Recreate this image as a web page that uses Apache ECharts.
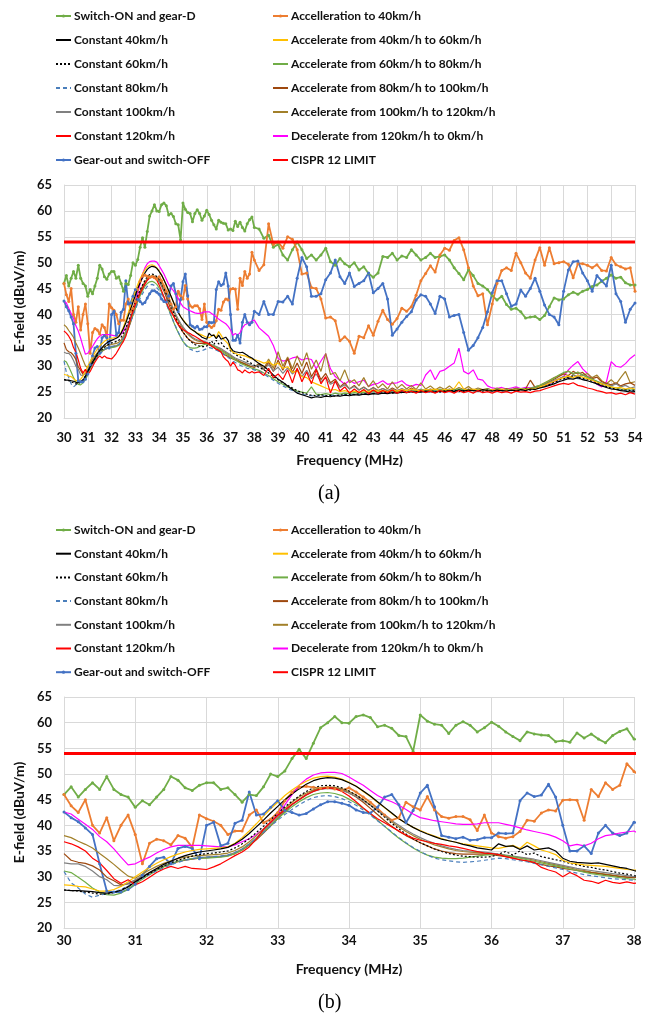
<!DOCTYPE html>
<html>
<head>
<meta charset="utf-8">
<script src="https://cdn.jsdelivr.net/npm/echarts@6/dist/echarts.min.js"></script>
<style>
  html, body { margin: 0; padding: 0; background: #fff; }
  #chart { width: 657px; height: 1021px; }
</style>
</head>
<body>
<div id="chart"></div>
<script>
// Sample frequencies (MHz): 0.1 MHz steps from 30 to 38, then 0.2 MHz steps up to 54
const freq = [];
for (let i = 0; i <= 80; i++) freq.push(+(30 + i * 0.1).toFixed(1));
for (let j = 1; j <= 80; j++) freq.push(+(38 + j * 0.2).toFixed(1));

// Measured E-field levels (dBuV/m), one value per sample frequency
const switchOnGearD = [
  46, 47.5, 45.5, 47, 48.3, 47, 49.5, 47, 46, 45.5,
  43.5, 44.8, 44, 45.5, 47, 49.5, 48.8, 47.3, 46.8, 47.8,
  48.3, 48.3, 47, 47.3, 46, 44.5, 46, 45.8, 47.5, 50,
  49.5, 50.6, 53, 54.8, 53, 56, 59, 60, 61.2, 60,
  59.9, 61.2, 61.5, 61, 59.2, 59.5, 58.9, 57.5, 57.3, 54.4,
  61.5, 60.3, 59.7, 59.5, 57.9, 59.5, 60.2, 59.5, 58.2, 59,
  60.1, 59.3, 58.2, 57.3, 56.5, 58.2, 57.8, 57.6, 57.5, 56.3,
  56.5, 56.2, 58, 57, 57.8, 56.8, 56.1, 57.5, 58.3, 58.8,
  56.8,
  56.5, 54.7, 55.3, 53, 53.5, 51.5, 50.5, 52.5, 54, 52.5,
  50.8, 51.5, 50.5, 51.5, 52.8, 50.2, 49.5, 50.8, 49.8, 49.2,
  50, 48.6, 49.2, 47.9, 47.2, 48, 51.2, 51, 51.8, 50.5,
  51.3, 51, 52.5, 51.5, 50.5, 51, 51.8, 51, 51.2, 51.5,
  50.5, 49, 47.9, 46.7, 48.6, 47.5, 46, 45.5, 44.8, 43.6,
  42.8, 43.5, 41.9, 41, 41.2, 40.5, 39.3, 39.5, 39.6, 39,
  39.8, 41.5, 43.2, 42.8, 43, 43.8, 44.3, 43.9, 44.5, 44.8,
  45.4, 45.7, 46.4, 47, 47.6, 47, 47.2, 46.1, 45.7, 45.7
];
const accelTo40 = [
  46, 43.8, 42.5, 45, 40, 38.5, 41.5, 37, 40, 42,
  38.2, 32.5, 36.5, 37.3, 37, 36.2, 38, 37.5, 35.7, 42,
  41.3, 40.8, 40, 38.2, 38.9, 38.9, 42, 43, 40.5, 41.2,
  42.5, 44.8, 46.4, 47.4, 47.6, 47.4, 47.2, 47.3, 47.1, 46.8,
  47.3, 46.5, 45.5, 44.5, 43.3, 42, 41, 41.5, 44.5, 43.6,
  43, 45.6, 43, 41.7, 41.4, 41.7, 41.7, 41.1, 39, 42,
  38.5, 37.8, 37.5, 37.8, 38.8, 41, 40.8, 42.4, 43, 42.8,
  44.9, 45, 44.9, 41, 47, 45.6, 48.3, 47, 47.8, 52,
  50.5,
  48.5, 49.6, 57.5, 53.5, 54, 52.8, 55, 54.5, 52.5, 47.8,
  48, 45.2, 45, 43, 39.3, 39.5, 38.8, 34.9, 35.7, 34.8,
  32.5, 35.8, 35.5, 37.8, 36, 38.7, 40.8, 39, 38.1, 39.2,
  41.2, 40.6, 41.5, 43.7, 46.5, 47.9, 49.4, 48.2, 51.5, 52.8,
  52.4, 54.3, 54.8, 52.5, 49, 45.5, 43.6, 44, 38, 42,
  46, 48.5, 49, 48.5, 51.8, 50, 48, 47, 50.5, 52.9,
  49.5, 52.9, 49.8, 50, 50.2, 49.7, 47.1, 49.8, 49.8, 49.5,
  49, 49.6, 48.5, 48.4, 51, 49.6, 49.2, 48.8, 49, 44.5
];
const const40 = [
  27.4, 27.3, 27.3, 27.2, 27.1, 26.9, 26.8, 27.0, 27.3, 28.0,
  29.0, 29.9, 30.8, 31.6, 32.4, 33.0, 33.6, 34.1, 34.5, 34.8,
  35.0, 35.2, 35.4, 35.7, 36.4, 37.3, 38.4, 39.7, 41.0, 42.4,
  43.7, 45.0, 46.1, 47.1, 48.0, 48.7, 49.1, 49.3, 49.2, 48.9,
  48.3, 47.6, 46.7, 45.7, 44.6, 43.5, 42.4, 41.3, 40.4, 39.6,
  38.9, 38.3, 37.8, 37.3, 37.0, 36.7, 36.3, 36.0, 35.6, 35.4,
  35.2, 36.4, 35.9, 36.0, 35.3, 36.0, 35.2, 35.4, 35.6, 35.0,
  33.6, 33.0, 32.8, 32.7, 32.6, 32.7, 32.4, 32.1, 31.8, 31.6,
  31.2,
  30.5, 30.0, 29.2, 28.3, 27.5, 26.9, 26.2, 25.5, 24.8, 24.5,
  24.2, 23.9, 24.1, 24.0, 24.2, 24.1, 24.3, 24.2, 24.4, 24.3,
  24.5, 24.4, 24.6, 24.5, 24.7, 24.6, 24.8, 24.7, 24.9, 24.8,
  25.0, 24.9, 25.1, 25.0, 25.0, 25.2, 25.1, 25.0, 25.2, 25.1,
  25.3, 25.1, 25.4, 25.2, 25.4, 25.3, 25.2, 25.5, 25.3, 25.2,
  25.4, 25.3, 25.2, 25.4, 25.3, 25.5, 25.3, 25.6, 25.5, 25.8,
  26.0, 26.3, 26.6, 27.0, 27.3, 27.6, 27.5, 27.8, 27.4, 27.2,
  26.9, 26.6, 26.2, 25.9, 25.6, 25.5, 25.3, 25.2, 25.0, 25.1
];
const accel40to60 = [
  28.4, 28.3, 28.1, 28.0, 27.6, 27.2, 27.2, 27.5, 28.1, 29.0,
  30.0, 30.9, 31.8, 32.6, 33.3, 33.9, 34.4, 34.8, 35.1, 35.3,
  35.4, 35.5, 35.6, 35.8, 36.5, 37.6, 38.9, 40.3, 41.8, 43.2,
  44.5, 45.8, 46.9, 47.8, 48.6, 49.2, 49.5, 49.6, 49.4, 49.0,
  48.4, 47.6, 46.6, 45.6, 44.5, 43.4, 42.3, 41.3, 40.4, 39.6,
  39.0, 38.4, 37.9, 37.4, 37.0, 36.7, 36.4, 36.2, 36.0, 35.8,
  35.6, 35.5, 35.8, 36.1, 35.5, 36.7, 36.0, 35.2, 34.8, 34.3,
  33.2, 32.7, 32.5, 32.3, 32.2, 32.1, 32.0, 31.8, 31.6, 31.4,
  31.3,
  31.0, 30.6, 30.9, 30.2, 30.6, 29.6, 29.9, 28.8, 29.1, 28.0,
  27.8, 27.0, 26.6, 26.2, 25.8, 25.4, 25.5, 25.1, 25.3, 25.0,
  25.2, 25.0, 25.3, 25.1, 25.4, 25.2, 25.3, 25.1, 25.4, 25.2,
  25.5, 25.3, 25.6, 25.4, 25.3, 25.5, 25.4, 25.6, 25.3, 25.5,
  25.4, 25.7, 27.0, 25.6, 25.4, 25.6, 25.4, 25.5, 25.3, 25.5,
  25.4, 25.6, 25.3, 25.5, 25.4, 25.6, 25.5, 25.7, 25.6, 26.0,
  26.3, 26.7, 27.1, 27.5, 27.8, 28.1, 27.8, 28.2, 27.9, 27.6,
  27.3, 26.9, 26.6, 26.3, 26.0, 25.8, 25.9, 25.6, 25.8, 25.6
];
const const60 = [
  27.4, 27.3, 27.2, 27.0, 26.8, 26.6, 26.6, 26.9, 27.4, 28.1,
  29.0, 29.8, 30.6, 31.4, 32.1, 32.7, 33.2, 33.6, 34.0, 34.3,
  34.5, 34.6, 34.8, 35.0, 35.6, 36.4, 37.4, 38.6, 39.8, 41.1,
  42.3, 43.6, 44.7, 45.7, 46.6, 47.3, 47.7, 47.8, 47.7, 47.3,
  46.7, 45.9, 45.0, 43.9, 42.8, 41.6, 40.4, 39.3, 38.3, 37.4,
  36.6, 36.0, 35.4, 34.9, 34.5, 34.2, 34.0, 33.9, 33.8, 33.8,
  33.9, 34.4, 34.9, 34.2, 35.0, 34.3, 34.6, 33.9, 33.6, 33.3,
  33.0, 32.6, 32.3, 32.0, 31.8, 31.5, 31.3, 31.0, 30.7, 30.5,
  30.2,
  29.8, 29.3, 28.7, 28.0, 27.4, 26.8, 26.3, 25.8, 25.3, 24.9,
  24.6, 24.4, 24.3, 24.5, 24.3, 24.4, 24.2, 24.5, 24.4, 24.6,
  24.5, 24.7, 24.6, 24.8, 24.7, 24.9, 24.8, 25.0, 24.8, 25.0,
  24.9, 25.1, 25.0, 25.2, 25.1, 25.0, 25.3, 25.1, 25.0, 25.3,
  25.2, 25.4, 25.1, 25.3, 25.2, 25.5, 25.3, 25.2, 25.4, 25.3,
  25.2, 25.5, 25.3, 25.4, 25.2, 25.4, 25.6, 25.4, 25.6, 25.9,
  26.2, 26.5, 26.9, 27.3, 27.6, 27.9, 28.1, 27.9, 27.7, 27.5,
  27.1, 26.8, 26.5, 26.1, 25.8, 25.6, 25.4, 25.5, 25.3, 25.4
];
const accel60to80 = [
  31.1, 30.8, 29.9, 28.9, 27.8, 27.0, 26.5, 26.4, 26.8, 27.6,
  28.6, 29.5, 30.4, 31.2, 31.9, 32.5, 33.0, 33.3, 33.5, 33.6,
  33.6, 33.7, 33.8, 34.0, 34.5, 35.2, 36.2, 37.4, 38.7, 40.0,
  41.3, 42.5, 43.6, 44.6, 45.4, 46.0, 46.3, 46.4, 46.2, 45.8,
  45.1, 44.3, 43.3, 42.2, 41.0, 39.8, 38.6, 37.5, 36.5, 35.6,
  34.8, 34.2, 33.8, 33.6, 33.5, 33.5, 33.6, 33.8, 34.0, 34.2,
  34.3, 34.3, 34.1, 33.9, 33.6, 33.3, 33.0, 32.7, 32.4, 32.1,
  31.8, 31.5, 31.2, 30.9, 30.6, 30.4, 30.2, 30.0, 29.8, 29.6,
  29.5,
  29.2, 28.7, 28.2, 27.6, 27.0, 26.5, 26.0, 25.6, 25.2, 25.0,
  24.8, 26.0, 24.6, 24.5, 24.7, 24.5, 24.8, 24.6, 24.8, 24.7,
  24.9, 24.8, 25.0, 24.9, 25.1, 25.0, 25.2, 25.0, 25.2, 25.1,
  25.3, 25.1, 25.3, 25.2, 25.4, 25.2, 25.4, 25.3, 25.5, 25.3,
  25.5, 25.4, 25.6, 25.4, 25.5, 25.3, 25.5, 25.4, 25.6, 25.4,
  25.6, 25.5, 25.4, 25.6, 25.5, 25.7, 25.6, 25.8, 26.0, 26.3,
  26.7, 27.2, 27.7, 28.3, 28.8, 29.0, 28.6, 28.8, 28.3, 27.9,
  27.5, 27.1, 26.7, 26.3, 26.0, 25.8, 25.6, 25.5, 25.4, 25.5
];
const const80 = [
  31.0, 28.8, 27.8, 26.6, 26.0, 26.4, 26.7, 27.0, 27.5, 28.2,
  29.0, 29.7, 30.4, 31.1, 31.7, 32.3, 32.8, 33.2, 33.5, 33.7,
  33.8, 33.9, 34.0, 34.2, 34.7, 35.4, 36.3, 37.4, 38.6, 39.8,
  41.0, 42.1, 43.1, 44.0, 44.8, 45.4, 45.7, 45.8, 45.6, 45.2,
  44.6, 43.9, 43.0, 42.0, 40.9, 39.8, 38.7, 37.6, 36.6, 35.7,
  34.9, 34.2, 33.6, 33.3, 33.1, 32.9, 32.8, 32.9, 33.0, 33.2,
  33.4, 33.6, 33.5, 33.3, 33.1, 32.9, 32.6, 32.3, 32.0, 31.7,
  31.4, 31.0, 30.7, 30.4, 30.2, 30.0, 29.8, 29.6, 29.5, 29.4,
  29.3,
  29.0, 28.5, 27.9, 27.3, 26.7, 26.2, 25.7, 25.3, 24.9, 24.6,
  24.4, 24.3, 24.2, 24.4, 24.2, 24.3, 24.5, 24.3, 24.5, 24.4,
  24.6, 24.5, 24.7, 24.6, 24.8, 24.7, 24.9, 24.8, 25.0, 24.9,
  25.1, 25.0, 25.2, 25.0, 25.2, 25.1, 25.0, 25.2, 25.1, 25.3,
  25.1, 25.3, 25.2, 25.4, 25.3, 25.2, 25.4, 25.3, 25.5, 25.3,
  25.4, 25.2, 25.4, 25.3, 25.5, 25.3, 25.5, 25.7, 25.6, 25.9,
  26.1, 26.4, 26.8, 27.1, 27.4, 27.7, 27.9, 27.6, 27.5, 27.2,
  26.9, 26.6, 26.3, 26.0, 25.7, 25.5, 25.4, 25.3, 25.2, 25.3
];
const accel80to100 = [
  34.5, 33.2, 32.8, 32.6, 32.1, 31.3, 29.9, 29.2, 28.4, 28.6,
  29.3, 30.0, 30.7, 31.4, 32.0, 32.5, 32.9, 33.2, 33.4, 33.6,
  33.7, 33.8, 33.9, 34.1, 34.5, 35.2, 36.1, 37.2, 38.5, 39.9,
  41.3, 42.7, 44.0, 45.1, 46.0, 46.7, 47.1, 47.3, 47.2, 46.9,
  46.3, 45.5, 44.5, 43.3, 42.1, 40.9, 39.8, 38.8, 38.0, 37.3,
  36.6, 36.0, 35.4, 35.0, 34.7, 34.5, 34.4, 34.4, 34.4, 34.4,
  34.3, 34.1, 33.9, 33.6, 33.3, 33.0, 32.7, 32.4, 32.1, 31.9,
  31.6, 31.4, 31.2, 31.0, 30.8, 30.6, 30.4, 30.2, 30.0, 29.9,
  29.8,
  30.4, 29.3, 30.8, 29.0, 31.2, 29.2, 31.5, 28.8, 30.6, 28.6,
  30.8, 28.0, 29.5, 27.4, 28.6, 26.8, 27.5, 26.0, 26.8, 25.6,
  26.3, 25.4, 26.0, 25.3, 25.9, 25.3, 25.7, 25.2, 25.8, 25.3,
  25.6, 25.2, 25.8, 25.3, 25.5, 25.2, 25.6, 25.3, 25.5, 25.2,
  25.6, 25.3, 25.5, 25.2, 25.6, 25.3, 25.5, 25.3, 25.6, 25.4,
  25.5, 25.3, 25.6, 25.4, 25.7, 25.4, 25.6, 27.3, 25.9, 26.1,
  26.5, 27.0, 27.5, 28.0, 28.5, 28.2, 29.0, 28.5, 28.8, 28.0,
  27.6, 27.9, 27.0, 26.7, 26.4, 26.8, 26.2, 26.6, 26.8, 26.3
];
const const100 = [
  32.7, 32.5, 32.5, 32.0, 31.1, 30.0, 29.4, 28.3, 28.2, 28.7,
  29.4, 30.1, 30.8, 31.5, 32.1, 32.6, 33.0, 33.3, 33.5, 33.7,
  33.8, 33.9, 34.0, 34.2, 34.7, 35.4, 36.4, 37.6, 38.9, 40.3,
  41.6, 42.9, 44.0, 45.0, 45.9, 46.6, 47.0, 47.2, 47.1, 46.8,
  46.3, 45.6, 44.8, 43.9, 42.9, 41.9, 40.9, 40.0, 39.1, 38.3,
  37.6, 37.0, 36.5, 36.0, 35.6, 35.3, 35.1, 35.0, 34.9, 34.8,
  34.6, 34.4, 34.2, 34.0, 33.8, 33.6, 33.4, 33.1, 32.8, 32.5,
  32.2, 31.9, 31.6, 31.4, 31.2, 31.0, 30.8, 30.6, 30.4, 30.2,
  30.0,
  30.2, 29.4, 30.3, 29.1, 29.8, 28.6, 29.7, 28.5, 29.4, 28.0,
  29.2, 27.6, 28.5, 27.0, 27.8, 26.5, 27.0, 25.9, 26.4, 25.6,
  26.1, 25.4, 25.9, 25.3, 25.8, 25.2, 25.7, 25.3, 25.6, 25.2,
  25.7, 25.3, 25.5, 25.2, 25.6, 25.3, 25.4, 25.2, 25.6, 25.3,
  25.5, 25.2, 25.6, 25.3, 25.5, 25.4, 25.6, 25.3, 25.5, 25.4,
  25.6, 25.3, 25.5, 25.4, 25.6, 25.4, 25.7, 25.5, 25.8, 26.0,
  26.4, 26.8, 27.3, 27.6, 28.0, 27.7, 28.3, 28.0, 28.4, 27.8,
  27.4, 27.1, 26.7, 26.4, 26.2, 26.6, 26.0, 26.3, 25.8, 26.0
];
const accel100to120 = [
  38.0, 37.6, 36.9, 36.3, 35.6, 34.5, 33.5, 32.4, 31.2, 30.1,
  29.7, 30.5, 31.3, 32.0, 32.6, 33.1, 33.5, 33.8, 34.0, 34.1,
  34.2, 34.3, 34.4, 34.6, 35.1, 35.8, 36.8, 38.0, 39.3, 40.6,
  42.0, 43.3, 44.5, 45.5, 46.3, 46.9, 47.3, 47.5, 47.4, 47.1,
  46.6, 45.9, 45.0, 44.0, 42.9, 41.8, 40.7, 39.7, 38.8, 38.0,
  37.3, 36.7, 36.2, 35.8, 35.4, 35.1, 34.9, 34.8, 34.7, 34.6,
  34.5, 34.3, 34.1, 33.9, 33.7, 33.5, 33.2, 32.9, 32.6, 32.3,
  32.0, 31.7, 31.4, 31.2, 30.9, 30.7, 30.5, 30.3, 30.1, 29.9,
  29.8,
  30.6, 29.5, 31.4, 29.6, 32.8, 30.0, 31.8, 29.5, 32.0, 30.0,
  32.6, 29.4, 31.2, 29.0, 32.5, 28.4, 28.8, 27.2, 29.3, 26.8,
  27.4, 26.2, 27.8, 26.0, 27.2, 25.8, 26.6, 25.6, 27.0, 25.7,
  26.5, 25.6, 26.3, 25.5, 26.8, 25.6, 26.2, 25.4, 26.0, 25.5,
  26.2, 25.4, 25.9, 25.5, 26.1, 25.4, 25.8, 25.5, 25.7, 25.4,
  25.8, 25.5, 25.7, 25.4, 25.8, 25.5, 25.7, 25.6, 26.0, 26.3,
  26.8, 27.3, 27.8, 28.2, 28.6, 29.1, 28.4, 28.9, 28.2, 28.6,
  27.8, 28.3, 27.2, 26.6, 27.4, 26.5, 27.8, 29.0, 26.8, 27.0
];
const const120 = [
  36.8, 36.4, 35.8, 35.0, 33.6, 32.7, 31.2, 29.6, 28.7, 29.4,
  28.4, 29.0, 29.9, 30.8, 31.5, 32.0, 31.6, 32.0, 31.6, 31.5,
  31.4, 31.9, 32.5, 33.3, 34.1, 34.8, 35.8, 37.3, 39.2, 40.6,
  41.9, 43.0, 44.1, 45.0, 45.9, 46.6, 47.1, 47.3, 47.2, 46.6,
  45.7, 44.6, 43.4, 42.3, 41.3, 40.5, 39.7, 38.9, 38.1, 37.5,
  37.1, 36.8, 36.5, 36.3, 36.0, 35.8, 35.5, 35.2, 34.9, 34.6,
  34.5, 34.3, 33.9, 33.6, 33.3, 33.1, 32.8, 31.8, 31.3, 30.9,
  30.0, 30.8, 30.2, 29.3, 29.1, 28.7, 29.3, 28.9, 28.7, 29.0,
  28.7,
  28.9, 28.2, 29.6, 27.8, 28.5, 27.4, 29.3, 26.8, 29.6, 27.0,
  28.9, 26.6, 29.3, 26.6, 28.0, 24.8, 27.2, 25.2, 26.0, 24.8,
  25.6, 24.9, 25.5, 24.7, 25.4, 24.8, 25.3, 24.9, 25.4, 24.8,
  25.3, 24.9, 25.2, 24.8, 25.3, 24.9, 25.2, 24.8, 25.3, 24.9,
  25.2, 24.8, 25.3, 24.9, 25.2, 24.8, 25.3, 24.9, 25.1, 24.8,
  25.2, 24.9, 25.1, 24.8, 25.2, 25.0, 25.1, 24.9, 25.2, 25.3,
  25.6, 25.9, 26.2, 26.5, 26.7, 26.5, 26.8, 26.3, 26.1, 25.8,
  25.6, 25.3, 25.1, 24.8, 24.9, 24.6, 24.8, 24.5, 24.9, 24.6
];
const decel120to0 = [
  42.6, 42.2, 41.2, 40.2, 39.2, 37.8, 36.8, 35.4, 33.8, 32.3,
  32.5, 33.2, 33.8, 34.6, 35.3, 35.8, 36.1, 36.1, 36.1, 36.1,
  36.0, 35.9, 35.8, 35.8, 36.2, 36.8, 37.4, 38.2, 39.3, 40.6,
  42.2, 44.0, 46.0, 47.8, 49.0, 49.8, 50.2, 50.3, 50.3, 50.1,
  49.4, 48.6, 47.8, 46.8, 45.8, 45.1, 44.6, 43.9, 43.1, 42.2,
  41.5, 41.2, 40.9, 40.7, 40.5, 40.3, 40.2, 40.2, 40.3, 40.5,
  40.5, 40.5, 40.2, 39.9, 39.5, 39.1, 38.8, 38.5, 38.2, 37.7,
  37.0, 36.0, 36.3, 36.0, 36.5, 37.4, 38.0, 38.2, 38.5, 38.7,
  38.9,
  37.4, 36.6, 35.8, 34.0, 31.5, 31.0, 31.2, 31.6, 31.8, 31.2,
  31.5, 31.3, 29.5, 31.0, 32.4, 29.5, 28.0, 27.3, 26.5, 27.3,
  26.7, 27.0, 27.3, 26.1, 26.5, 26.7, 27.2, 26.5, 26.7, 26.8,
  27.2, 26.4, 26.1, 26.5, 26.3, 28.3, 29.3, 27.4, 29.0, 29.3,
  30.0, 30.6, 33.5, 29.0, 28.5, 29.3, 27.5, 27.3, 26.2, 25.8,
  25.7, 25.9, 25.6, 25.8, 26.0, 25.7, 25.9, 25.8, 26.0, 26.0,
  26.3, 26.5, 27.0, 27.5, 28.0, 29.3, 30.2, 30.9, 29.5, 28.6,
  27.5, 26.5, 26.0, 27.0, 30.9, 30.0, 29.8, 30.5, 31.5, 32.2
];
const gearOutSwitchOff = [
  42.6, 41.5, 40.7, 39.5, 38.2, 32.5, 27.2, 27, 27, 27.5,
  28.5, 30.3, 32, 33.5, 33.8, 32.5, 35.5, 35.9, 35.5, 33.5,
  40, 40.6, 36, 36.5, 40.4, 41, 46.5, 42, 42.2, 43.5,
  44.8, 42.9, 42.5, 42, 42.3, 43.2, 44, 44.6, 44.6, 44.3,
  43.9, 43, 42.5, 42.4, 43.5, 45.5, 46, 44, 40.5, 42.9,
  46.3, 47.8, 43.6, 38, 37.7, 37.4, 37.7, 37.1, 37.2, 37.6,
  37.6, 38.5, 38.4, 38.5, 44.8, 46.3, 45.6, 45.9, 48, 45.5,
  40, 35, 35, 36, 34.5, 38.5, 40, 38.5, 38, 38.5,
  40.6,
  40, 42.5, 40, 40, 42.5, 42.4, 43.5, 42, 47, 51,
  49.2, 43.5, 43.5, 44, 46.7, 48, 50.5, 47.3, 46, 48,
  45.4, 46, 46.5, 48, 44.2, 45, 46, 43, 36, 37.2,
  38.5, 39.6, 40.5, 42.8, 43.8, 43.5, 42, 40.2, 43.5, 43,
  39.5, 39.8, 40, 36.5, 33.1, 34, 35.5, 37.5, 40.5, 44.2,
  46.5, 46.5, 44, 41.6, 42, 44.7, 43.5, 45, 47, 44.5,
  41.8, 40, 39.5, 38, 44.5, 48.6, 50.2, 50.3, 48, 46.5,
  44.5, 47.5, 46.5, 45.5, 49.5, 44, 42.5, 38.5, 41, 42.2
];
// CISPR 12 limit across the band
const limitFreq = [30, 54];
const limitLevel = [54, 54];

// Axis ranges and ticks
const yTicks = { min: 20, max: 65, step: 5 };
const xRangeA = { min: 30, max: 54, step: 1 };
const xRangeB = { min: 30, max: 38, step: 1 };

const legendLeft = ['Switch-ON and gear-D', 'Constant 40km/h', 'Constant 60km/h', 'Constant 80km/h',
  'Constant 100km/h', 'Constant 120km/h', 'Gear-out and switch-OFF'];
const legendRight = ['Accelleration to 40km/h', 'Accelerate from 40km/h to 60km/h',
  'Accelerate from 60km/h to 80km/h', 'Accelerate from 80km/h to 100km/h',
  'Accelerate from 100km/h to 120km/h', 'Decelerate from 120km/h to 0km/h', 'CISPR 12 LIMIT'];

const FONT = "Lato, 'Noto Sans', sans-serif";

const traces = [
  { name: 'Switch-ON and gear-D', values: switchOnGearD, color: '#70AD47', width: 1.8, marker: true },
  { name: 'Accelleration to 40km/h', values: accelTo40, color: '#ED7D31', width: 1.8, marker: true },
  { name: 'Gear-out and switch-OFF', values: gearOutSwitchOff, color: '#4472C4', width: 1.8, marker: true },
  { name: 'Decelerate from 120km/h to 0km/h', values: decel120to0, color: '#FF00FF', width: 1.2 },
  { name: 'Accelerate from 100km/h to 120km/h', values: accel100to120, color: '#A2802A', width: 1.2 },
  { name: 'Accelerate from 80km/h to 100km/h', values: accel80to100, color: '#9E480E', width: 1.2 },
  { name: 'Constant 100km/h', values: const100, color: '#808080', width: 1.2 },
  { name: 'Accelerate from 60km/h to 80km/h', values: accel60to80, color: '#70AD47', width: 1.2 },
  { name: 'Constant 80km/h', values: const80, color: '#4A7EBB', width: 1.2, dash: [4, 3] },
  { name: 'Constant 60km/h', values: const60, color: '#000000', width: 1.2, dash: [2, 2] },
  { name: 'Accelerate from 40km/h to 60km/h', values: accel40to60, color: '#FFC000', width: 1.2 },
  { name: 'Constant 40km/h', values: const40, color: '#000000', width: 1.2 },
  { name: 'Constant 120km/h', values: const120, color: '#FF0000', width: 1.2 }
];
const withMarker = new Set(traces.filter(t => t.marker).map(t => t.name));

function buildSeries(panel) {
  const out = traces.map(t => ({
    name: t.name,
    type: 'line',
    xAxisIndex: panel,
    yAxisIndex: panel,
    data: freq.map((f, i) => [f, t.values[i]]),
    symbol: t.marker ? 'circle' : 'none',
    symbolSize: 3,
    showSymbol: !!t.marker,
    lineStyle: { color: t.color, width: t.width, type: t.dash || 'solid' },
    itemStyle: { color: t.color },
    emphasis: { disabled: true },
    animation: false,
    z: 2
  }));
  out.push({
    name: 'CISPR 12 LIMIT',
    type: 'line',
    xAxisIndex: panel,
    yAxisIndex: panel,
    data: limitFreq.map((f, i) => [f, limitLevel[i]]),
    symbol: 'none',
    lineStyle: { color: '#FF0000', width: 3 },
    itemStyle: { color: '#FF0000' },
    emphasis: { disabled: true },
    animation: false,
    z: 3
  });
  return out;
}

// Plain line keys for unmarked series, small dot for marked ones
function legendBlock(names, left, top, gap) {
  return {
    data: names.map(n => withMarker.has(n) ? { name: n } : { name: n, itemStyle: { opacity: 0 } }),
    orient: 'vertical',
    left: left,
    top: top,
    padding: 0,
    itemWidth: 15,
    itemHeight: 4,
    itemGap: gap,
    textStyle: { fontFamily: FONT, fontSize: 12, fontWeight: 'bold', color: '#111', lineHeight: 16, padding: [0, 0, 0, -2] }
  };
}

const axisText = { fontFamily: FONT, fontSize: 13, fontWeight: 'bold', color: '#111' };
const gridLine = { show: true, lineStyle: { color: '#D9D9D9', width: 1 } };

function xAxis(panel, range, margin, nameGap) {
  return {
    type: 'value', gridIndex: panel, min: range.min, max: range.max, interval: range.step,
    name: 'Frequency (MHz)', nameLocation: 'middle', nameGap: nameGap,
    nameTextStyle: { fontFamily: FONT, fontSize: 14, fontWeight: 'bold', color: '#111' },
    axisLine: { show: true, lineStyle: { color: '#D9D9D9' } },
    axisTick: { show: false },
    axisLabel: Object.assign({ margin: margin }, axisText),
    splitLine: gridLine
  };
}
function yAxis(panel) {
  return {
    type: 'value', gridIndex: panel, min: yTicks.min, max: yTicks.max, interval: yTicks.step,
    name: 'E-field (dBuV/m)', nameLocation: 'middle', nameGap: 28,
    nameTextStyle: { fontFamily: FONT, fontSize: 14, fontWeight: 'bold', color: '#111' },
    axisLine: { show: true, lineStyle: { color: '#D9D9D9' } },
    axisTick: { show: false },
    axisLabel: Object.assign({ margin: 12 }, axisText),
    splitLine: gridLine
  };
}

const chart = echarts.init(document.getElementById('chart'), null, { renderer: 'canvas' });
chart.setOption({
  backgroundColor: '#ffffff',
  animation: false,
  legend: [
    legendBlock(legendLeft, 55, 8, 8),
    legendBlock(legendRight, 272, 8, 8),
    legendBlock(legendLeft, 55, 522, 7.7),
    legendBlock(legendRight, 272, 522, 7.7)
  ],
  grid: [
    { left: 64, right: 22, top: 185, height: 233 },
    { left: 64, right: 23, top: 697, height: 231 }
  ],
  xAxis: [xAxis(0, xRangeA, 13, 35), xAxis(1, xRangeB, 6, 34)],
  yAxis: [yAxis(0), yAxis(1)],
  series: buildSeries(0).concat(buildSeries(1)),
  graphic: [
    { type: 'text', left: 318, top: 484, style: { text: '(a)', font: "20px 'Liberation Serif', serif", fill: '#000' } },
    { type: 'text', left: 318, top: 993, style: { text: '(b)', font: "20px 'Liberation Serif', serif", fill: '#000' } }
  ]
});
</script>
</body>
</html>
